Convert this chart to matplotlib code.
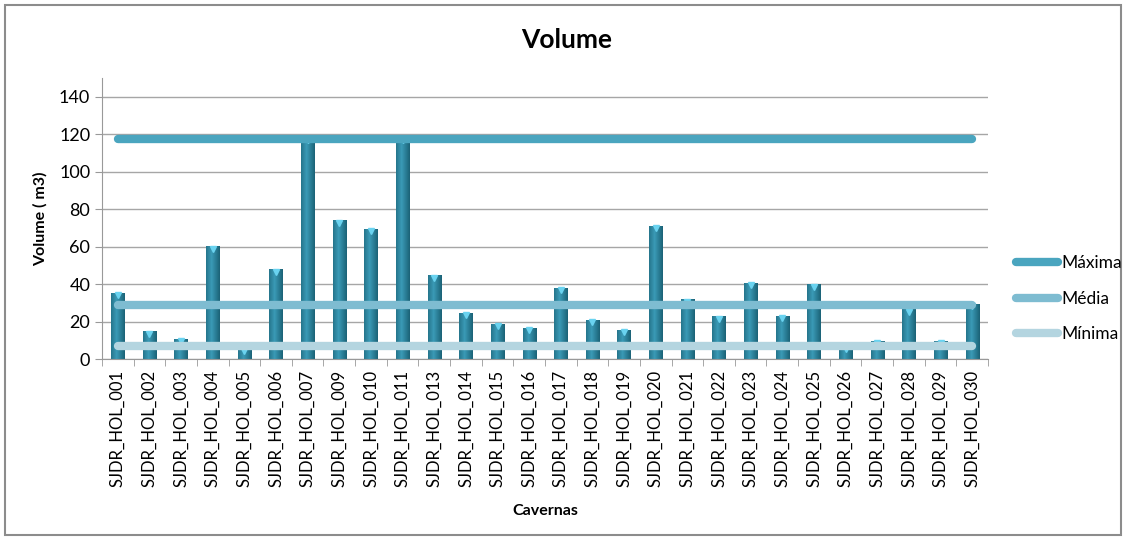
import numpy as np
import matplotlib
matplotlib.use('Agg')
import matplotlib.pyplot as plt
from matplotlib.patches import Rectangle

plt.rcParams['font.family'] = ['Lato', 'DejaVu Sans']

# data
cavernas = ['SJDR_HOL_001', 'SJDR_HOL_002', 'SJDR_HOL_003', 'SJDR_HOL_004', 'SJDR_HOL_005',
            'SJDR_HOL_006', 'SJDR_HOL_007', 'SJDR_HOL_009', 'SJDR_HOL_010', 'SJDR_HOL_011',
            'SJDR_HOL_013', 'SJDR_HOL_014', 'SJDR_HOL_015', 'SJDR_HOL_016', 'SJDR_HOL_017',
            'SJDR_HOL_018', 'SJDR_HOL_019', 'SJDR_HOL_020', 'SJDR_HOL_021', 'SJDR_HOL_022',
            'SJDR_HOL_023', 'SJDR_HOL_024', 'SJDR_HOL_025', 'SJDR_HOL_026', 'SJDR_HOL_027',
            'SJDR_HOL_028', 'SJDR_HOL_029', 'SJDR_HOL_030']
volume = [35.5, 14.7, 10.6, 60.2, 5.3, 47.8, 118, 74, 69.4, 118,
          44.6, 24.8, 18.9, 16.6, 38, 20.9, 15.6, 71.2, 31.9, 22.7,
          40.7, 23.2, 39.8, 6.5, 9.5, 26.5, 9.5, 29.6]
maxima = 117.5
media = 28.8
minima = 6.8

fig = plt.figure(figsize=(11.29, 5.38), dpi=100)
ax = fig.add_axes([0.0903, 0.3327, 0.7848, 0.5222])

x = np.arange(len(cavernas))
bars = ax.bar(x, volume, width=0.42, color='#2b88a3', zorder=2)

# fake the cylinder look with a horizontal gradient per bar
grad = np.linspace(0, 1, 64)
grad = 1 - np.abs(grad - 0.4) * 1.6
cmap = matplotlib.colors.LinearSegmentedColormap.from_list('cyl', ['#1b6276', '#3a9ab6'])
for b in bars:
    im = ax.imshow(grad[np.newaxis, :], cmap=cmap, aspect='auto', zorder=2.1,
                   extent=[b.get_x(), b.get_x() + b.get_width(), 0, b.get_height()])
    im.set_clip_path(b)
ax.plot(x, np.array(volume) - 1.2, 'v', color='#6ad3f0', markersize=5, zorder=2.2)

n = len(cavernas)
ax.plot([0, n - 1], [maxima, maxima], color='#4aa5bf', lw=6, solid_capstyle='round', zorder=3, label='Máxima')
ax.plot([0, n - 1], [media, media], color='#7ebcd1', lw=6, solid_capstyle='round', zorder=3, label='Média')
ax.plot([0, n - 1], [minima, minima], color='#b4d5e0', lw=6, solid_capstyle='round', zorder=3, label='Mínima')

ax.set_xlim(-0.5, n - 0.5)
ax.set_ylim(0, 150)
ax.set_yticks(range(0, 141, 20))
ax.set_xticks(x)
ax.set_xticklabels(cavernas, rotation=90, fontsize=12)
ax.set_xticks(np.arange(-0.5, n, 1), minor=True)
ax.tick_params(axis='x', which='major', length=0, pad=8)
ax.tick_params(axis='x', which='minor', length=5, color='#999999')
ax.tick_params(axis='y', length=5, color='#999999', labelsize=13)
ax.yaxis.grid(True, color='#a6a6a6', lw=1)
ax.set_axisbelow(True)
for s in ['top', 'right']:
    ax.spines[s].set_visible(False)
ax.spines['left'].set_color('#999999')
ax.spines['bottom'].set_color('#999999')

ax.set_ylabel('Volume ( m3)', fontsize=11.5, fontweight='bold', labelpad=8)
ax.set_xlabel('Cavernas', fontsize=11.5, fontweight='bold', labelpad=12)
fig.text(0.502, 0.925, 'Volume', ha='center', va='center', fontsize=19, fontweight='bold')

fig.legend(loc='center left', bbox_to_anchor=(0.886, 0.445), frameon=False, fontsize=12.5,
           handlelength=2.4, labelspacing=1.1, handletextpad=0.2)

fig.add_artist(Rectangle((0.004, 0.006), 0.989, 0.984, transform=fig.transFigure,
                         fill=False, edgecolor='#8c8c8c', lw=1.5))

plt.savefig('out.png', dpi=100)
